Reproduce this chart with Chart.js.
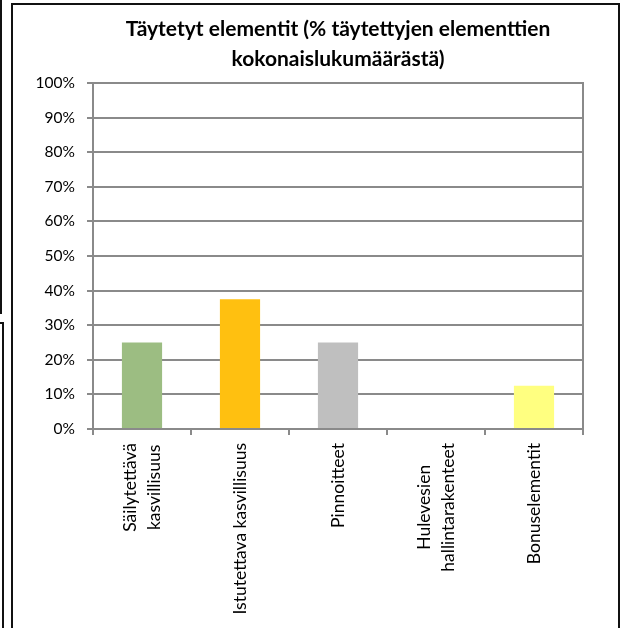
<!DOCTYPE html>
<html>
<head>
<meta charset="utf-8">
<script src="https://cdn.jsdelivr.net/npm/chart.js@4"></script>
<style>
  html, body { margin: 0; padding: 0; background: #fff; }
  #wrap { position: relative; width: 623px; height: 628px; overflow: hidden; }
  #chart { position: absolute; left: 0; top: 0; }
  .edge { position: absolute; border-color: #111; border-style: solid; border-width: 0; }
</style>
</head>
<body>
<div id="wrap">
  <!-- neighbouring chart frames (cut off) -->
  <div class="edge" style="left:-20px;top:-5px;width:20px;height:317px;border-right-width:2px;border-bottom-width:2px;"></div>
  <div class="edge" style="left:-20px;top:322px;width:22px;height:320px;border-right-width:2px;border-top-width:2px;"></div>
  <!-- this chart's frame -->
  <div class="edge" style="left:11px;top:3px;width:605px;height:640px;border-width:2px;"></div>
  <canvas id="chart" width="623" height="628"></canvas>
</div>
<script>
var otsikko = ["Täytetyt elementit (% täytettyjen elementtien", "kokonaislukumäärästä)"];
var kategoriat = [
    ["Säilytettävä", "kasvillisuus"],
    "Istutettava kasvillisuus",
    "Pinnoitteet",
    ["Hulevesien", "hallintarakenteet"],
    "Bonuselementit"
];
var osuudet = [25, 37.5, 25, 0, 12.5];
var varit = ["#9CBD82", "#FFC010", "#BFBFBF", "#4BACC6", "#FFFF80"];

var viiva = "#8a8a8a";
var fontti = "Lato, 'Open Sans', sans-serif";

// x-akselin nimet pystyyn, rivit keskitetty kuten Excelissä
var akseliTekstit = {
    id: 'akseliTekstit',
    afterDraw: function(c) {
        var s = c.scales.x;
        var g = c.ctx;
        g.save();
        g.font = "17.5px " + fontti;
        g.fillStyle = '#000';
        g.textAlign = 'center';
        g.textBaseline = 'middle';
        c.data.labels.forEach(function(k, i) {
            var rivit = [].concat(k);
            var pisin = 0;
            rivit.forEach(function(r) { pisin = Math.max(pisin, g.measureText(r).width); });
            var x = s.getPixelForValue(i);
            var y = s.top + 14 + pisin / 2;
            g.save();
            g.translate(x, y);
            g.rotate(-Math.PI / 2);
            rivit.forEach(function(r, j) {
                g.fillText(r, 0, (j - (rivit.length - 1) / 2) * 24);
            });
            g.restore();
        });
        g.restore();
    }
};

var ctx = document.getElementById("chart");
var chart = new Chart(ctx, {
    type: 'bar',
    data: {
        labels: kategoriat,
        datasets: [{
            data: osuudet,
            backgroundColor: varit,
            borderWidth: 0,
            barPercentage: 0.41,
            categoryPercentage: 1
        }]
    },
    options: {
        responsive: false,
        animation: false,
        layout: { padding: { left: 0, right: 40, top: 0, bottom: 0 } },
        plugins: {
            legend: { display: false },
            tooltip: { enabled: false },
            title: {
                display: true,
                fullSize: false,
                text: otsikko,
                color: '#000',
                font: { family: fontti, size: 21, weight: 'bold', lineHeight: 1.43 },
                padding: { top: 14, bottom: 9 }
            }
        },
        scales: {
            x: {
                grid: {
                    drawOnChartArea: false,
                    drawTicks: true,
                    tickLength: 6,
                    color: viiva,
                    lineWidth: 2
                },
                border: { color: viiva, width: 2 },
                ticks: { display: false },
                afterFit: function(s) { s.height = 199; }
            },
            y: {
                min: 0,
                max: 100,
                ticks: {
                    stepSize: 10,
                    color: '#000',
                    font: { family: fontti, size: 15.5 },
                    padding: 12,
                    callback: function(v) { return v + "%"; }
                },
                grid: { color: viiva, lineWidth: 2, tickLength: 6 },
                border: { color: viiva, width: 2 },
                afterFit: function(s) { s.width = 93; }
            },
            oikea: {
                position: 'right',
                min: 0,
                max: 100,
                ticks: { display: false },
                grid: { display: false },
                border: { color: viiva, width: 2 },
                afterFit: function(s) { s.width = 0; }
            }
        }
    },
    plugins: [akseliTekstit]
});
</script>
</body>
</html>
